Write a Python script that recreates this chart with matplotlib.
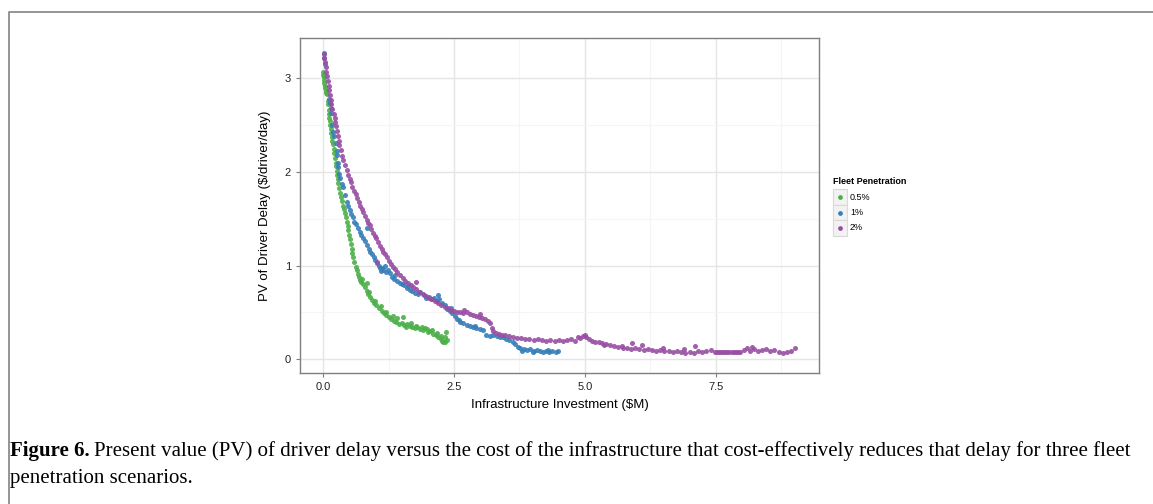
import matplotlib
matplotlib.use("Agg")
import matplotlib.pyplot as plt
from matplotlib.patches import Rectangle
from matplotlib.lines import Line2D

plt.rcParams['font.family'] = ['Liberation Sans', 'DejaVu Sans']

# values (x in $M, y in $/driver/day)
green_x = [0.00, 0.00, 0.01, 0.01, 0.02, 0.03, 0.05, 0.07, 0.09, 0.10, 0.11, 0.12, 0.12, 0.13,
           0.14, 0.15, 0.16, 0.17, 0.18, 0.19, 0.20, 0.21, 0.22, 0.24, 0.25, 0.26, 0.27, 0.28,
           0.29, 0.31, 0.33, 0.35, 0.36, 0.38, 0.40, 0.41, 0.43, 0.45, 0.47, 0.48, 0.50, 0.51,
           0.53, 0.55, 0.56, 0.58, 0.60, 0.62, 0.64, 0.66, 0.68, 0.70, 0.72, 0.76, 0.80, 0.83,
           0.86, 0.90, 0.94, 0.98, 1.02, 1.07, 1.12, 1.17, 1.21, 1.26, 1.30, 1.35, 1.40, 1.45,
           1.50, 1.55, 1.60, 1.66, 1.70, 1.75, 1.80, 1.85, 1.91, 1.95, 2.00, 2.05, 2.10, 2.15,
           2.20, 2.25, 2.28, 2.30, 2.32, 2.35, 2.36, 0.83, 1.53, 1.00, 1.10, 1.20, 1.33, 1.42,
           1.58, 1.68, 1.78, 1.88, 1.98, 2.08, 2.18, 2.26, 2.33, 0.74, 0.88, 0.04, 0.06]
green_y = [3.07, 3.04, 3.01, 2.98, 2.95, 2.92, 2.84, 2.83, 2.76, 2.73, 2.66, 2.62, 2.58, 2.54,
           2.50, 2.46, 2.42, 2.37, 2.33, 2.30, 2.24, 2.20, 2.15, 2.10, 2.06, 2.01, 1.97, 1.92,
           1.88, 1.83, 1.78, 1.73, 1.69, 1.64, 1.60, 1.56, 1.52, 1.47, 1.42, 1.38, 1.33, 1.28,
           1.23, 1.18, 1.13, 1.09, 1.04, 0.99, 0.95, 0.91, 0.88, 0.85, 0.83, 0.80, 0.77, 0.73,
           0.70, 0.67, 0.63, 0.60, 0.58, 0.55, 0.52, 0.49, 0.47, 0.45, 0.43, 0.41, 0.40, 0.38,
           0.39, 0.37, 0.38, 0.36, 0.35, 0.33, 0.34, 0.32, 0.31, 0.33, 0.29, 0.30, 0.27, 0.26,
           0.24, 0.22, 0.20, 0.18, 0.24, 0.29, 0.21, 0.81, 0.45, 0.62, 0.57, 0.51, 0.46, 0.44,
           0.34, 0.39, 0.36, 0.35, 0.32, 0.31, 0.28, 0.25, 0.19, 0.86, 0.72, 2.90, 2.86]

blue_x = [0.01, 0.02, 0.03, 0.12, 0.13, 0.15, 0.16, 0.18, 0.19, 0.21, 0.24, 0.26, 0.27, 0.29,
          0.29, 0.31, 0.32, 0.36, 0.39, 0.42, 0.45, 0.48, 0.51, 0.54, 0.58, 0.60, 0.63, 0.67,
          0.70, 0.73, 0.76, 0.80, 0.84, 0.87, 0.90, 0.93, 0.97, 1.00, 1.03, 1.06, 1.08, 1.12,
          1.15, 1.20, 1.24, 1.28, 1.32, 1.36, 1.41, 1.46, 1.50, 1.55, 1.60, 1.66, 1.70, 1.76,
          1.81, 1.86, 1.92, 1.97, 2.02, 2.07, 2.12, 2.17, 2.22, 2.27, 2.32, 2.37, 2.42, 2.47,
          2.52, 2.56, 2.62, 2.68, 2.74, 2.80, 2.86, 2.93, 3.00, 3.06, 3.12, 3.18, 3.25, 3.32,
          3.38, 3.44, 3.50, 3.56, 3.62, 3.67, 3.72, 3.77, 3.83, 3.90, 3.96, 4.02, 4.08, 4.14,
          4.20, 4.26, 4.32, 4.38, 4.44, 4.49, 0.83, 2.20, 1.10, 1.18, 1.38, 1.62, 2.45, 2.60,
          2.90, 3.80, 4.00, 4.30]
blue_y = [3.27, 3.22, 3.15, 2.78, 2.74, 2.68, 2.63, 2.50, 2.43, 2.38, 2.31, 2.22, 2.18, 2.10,
          2.05, 1.98, 1.94, 1.87, 1.84, 1.75, 1.68, 1.64, 1.59, 1.55, 1.52, 1.47, 1.44, 1.40,
          1.36, 1.33, 1.30, 1.26, 1.22, 1.18, 1.15, 1.12, 1.09, 1.06, 1.03, 1.00, 0.97, 0.98,
          0.95, 0.93, 0.95, 0.92, 0.88, 0.86, 0.84, 0.82, 0.80, 0.79, 0.76, 0.74, 0.73, 0.71,
          0.70, 0.72, 0.69, 0.66, 0.67, 0.64, 0.66, 0.62, 0.64, 0.60, 0.58, 0.54, 0.52, 0.49,
          0.46, 0.43, 0.40, 0.39, 0.37, 0.36, 0.34, 0.33, 0.32, 0.31, 0.26, 0.25, 0.26, 0.25,
          0.24, 0.24, 0.22, 0.21, 0.19, 0.16, 0.13, 0.12, 0.11, 0.10, 0.11, 0.09, 0.10, 0.09,
          0.08, 0.09, 0.08, 0.09, 0.08, 0.09, 1.40, 0.69, 0.94, 1.00, 0.90, 0.78, 0.55, 0.42,
          0.36, 0.09, 0.08, 0.10]

purple_x = [0.01, 0.02, 0.03, 0.05, 0.06, 0.08, 0.09, 0.11, 0.12, 0.13, 0.15, 0.16, 0.18, 0.20,
            0.22, 0.23, 0.25, 0.26, 0.28, 0.30, 0.31, 0.34, 0.37, 0.39, 0.42, 0.45, 0.48, 0.51,
            0.54, 0.56, 0.59, 0.62, 0.65, 0.68, 0.71, 0.74, 0.77, 0.80, 0.83, 0.86, 0.89, 0.92,
            0.95, 0.99, 1.02, 1.05, 1.08, 1.12, 1.15, 1.19, 1.22, 1.26, 1.30, 1.34, 1.38, 1.42,
            1.47, 1.52, 1.57, 1.62, 1.67, 1.72, 1.78, 1.84, 1.90, 1.96, 2.02, 2.08, 2.14, 2.20,
            2.26, 2.32, 2.38, 2.44, 2.50, 2.56, 2.62, 2.68, 2.74, 2.80, 2.86, 2.92, 2.98, 3.04,
            3.10, 3.15, 3.19, 3.22, 3.25, 3.30, 3.36, 3.42, 3.48, 3.55, 3.62, 3.70, 3.78, 3.86,
            3.94, 4.02, 4.10, 4.18, 4.26, 4.34, 4.42, 4.50, 4.58, 4.66, 4.74, 4.82, 4.90, 4.96,
            5.02, 5.08, 5.14, 5.20, 5.26, 5.32, 5.40, 5.48, 5.56, 5.64, 5.72, 5.80, 5.88, 5.96,
            6.04, 6.12, 6.20, 6.28, 6.36, 6.44, 6.52, 6.60, 6.68, 6.76, 6.84, 6.92, 7.00, 7.08,
            7.16, 7.24, 7.32, 7.40, 7.48, 7.52, 7.56, 7.60, 7.64, 7.68, 7.72, 7.76, 7.80, 7.84,
            7.88, 7.92, 7.96, 8.04, 8.10, 8.16, 8.22, 8.30, 8.38, 8.46, 8.54, 8.62, 8.70, 8.78,
            8.86, 8.94, 9.01, 1.78, 1.03, 5.90, 6.10, 7.10, 8.20, 5.00, 4.86, 3.00, 2.70, 5.36,
            5.70, 6.50, 6.90]
purple_y = [3.26, 3.22, 3.17, 3.12, 3.07, 3.02, 2.97, 2.92, 2.87, 2.82, 2.77, 2.73, 2.67, 2.62,
            2.58, 2.53, 2.49, 2.44, 2.38, 2.33, 2.29, 2.23, 2.17, 2.13, 2.07, 2.02, 1.97, 1.93,
            1.89, 1.84, 1.80, 1.76, 1.72, 1.68, 1.64, 1.60, 1.57, 1.53, 1.49, 1.46, 1.43, 1.39,
            1.35, 1.32, 1.29, 1.25, 1.21, 1.18, 1.15, 1.12, 1.09, 1.05, 1.02, 0.99, 0.96, 0.93,
            0.90, 0.87, 0.84, 0.82, 0.79, 0.77, 0.75, 0.72, 0.70, 0.68, 0.66, 0.64, 0.62, 0.60,
            0.58, 0.56, 0.55, 0.53, 0.52, 0.51, 0.51, 0.49, 0.50, 0.48, 0.47, 0.46, 0.45, 0.44,
            0.43, 0.41, 0.39, 0.33, 0.30, 0.28, 0.27, 0.26, 0.26, 0.25, 0.24, 0.23, 0.23, 0.22,
            0.22, 0.21, 0.22, 0.21, 0.20, 0.21, 0.20, 0.21, 0.20, 0.21, 0.22, 0.20, 0.23, 0.25,
            0.24, 0.22, 0.20, 0.19, 0.18, 0.17, 0.16, 0.15, 0.14, 0.13, 0.12, 0.12, 0.11, 0.12,
            0.11, 0.10, 0.11, 0.10, 0.09, 0.10, 0.09, 0.09, 0.08, 0.09, 0.08, 0.07, 0.08, 0.07,
            0.09, 0.08, 0.09, 0.10, 0.08, 0.08, 0.08, 0.08, 0.08, 0.08, 0.08, 0.08, 0.08, 0.08,
            0.08, 0.08, 0.08, 0.10, 0.12, 0.09, 0.11, 0.09, 0.10, 0.11, 0.09, 0.10, 0.08, 0.07,
            0.08, 0.09, 0.12, 0.83, 1.04, 0.17, 0.15, 0.14, 0.13, 0.26, 0.24, 0.48, 0.53, 0.15,
            0.14, 0.12, 0.11]

series_labels = ['0.5%', '1%', '2%']
series_colors = ['#4DAF4A', '#377EB8', '#984EA3']

fig = plt.figure(figsize=(11.53, 5.04), dpi=100)
ax = fig.add_axes([0.2602, 0.2599, 0.4501, 0.6647])

for xs, ys, col in zip([green_x, blue_x, purple_x], [green_y, blue_y, purple_y], series_colors):
    ax.scatter(xs, ys, s=13, color=col, linewidths=0, alpha=0.9, zorder=3)

ax.set_xlim(-0.44, 9.47)
ax.set_ylim(-0.146, 3.43)
ax.set_xticks([0, 2.5, 5, 7.5])
ax.set_xticklabels(['0.0', '2.5', '5.0', '7.5'])
ax.set_yticks([0, 1, 2, 3])
ax.set_xticks([1.25, 3.75, 6.25, 8.75], minor=True)
ax.set_yticks([0.5, 1.5, 2.5], minor=True)
ax.grid(True, which='major', color='#E5E5E5', linewidth=1.0, zorder=0)
ax.grid(True, which='minor', color='#F5F5F5', linewidth=0.8, zorder=0)
ax.set_axisbelow(True)
ax.tick_params(which='major', length=3, color='#7F7F7F', labelsize=8, labelcolor='#222222')
ax.tick_params(which='minor', length=0)
for sp in ax.spines.values():
    sp.set_color('#7F7F7F')
    sp.set_linewidth(1.0)

ax.set_xlabel('Infrastructure Investment ($M)', fontsize=9.5, labelpad=5)
ax.set_ylabel('PV of Driver Delay ($/driver/day)', fontsize=9.5, labelpad=10)

# legend drawn by hand, ggplot style boxed keys
fig.text(833 / 1153, 1 - 181 / 504, 'Fleet Penetration', fontsize=6.5, fontweight='bold',
         va='center', ha='left')
for i, (lab, col) in enumerate(zip(series_labels, series_colors)):
    yc = 197 + i * 15.5
    fig.add_artist(Rectangle((833 / 1153, 1 - (yc + 7.7) / 504), 14 / 1153, 15.4 / 504,
                             transform=fig.transFigure, facecolor='#F2F2F2',
                             edgecolor='#D9D9D9', linewidth=0.8))
    fig.add_artist(Line2D([840 / 1153], [1 - yc / 504], marker='o', markersize=2.4,
                          color=col, linestyle='none', transform=fig.transFigure))
    fig.text(850 / 1153, 1 - yc / 504, lab, fontsize=6.5, va='center', ha='left')

# page frame
fig.add_artist(Line2D([8.5 / 1153, 8.5 / 1153, 1.0], [0.0, 1 - 12 / 504, 1 - 12 / 504],
                      color='#8C8C8C', linewidth=1.3, transform=fig.transFigure))

# caption: bold lead-in then the rest of the sentence
cap_size = 15
lead = fig.text(10 / 1153, 1 - 451 / 504, 'Figure 6.', fontsize=cap_size, fontweight='bold',
                va='center', ha='left', family='Liberation Serif')
fig.canvas.draw()
bb = lead.get_window_extent(renderer=fig.canvas.get_renderer())
x_after = (bb.x1 + 4) / fig.bbox.width
fig.text(x_after, 1 - 451 / 504,
         'Present value (PV) of driver delay versus the cost of the infrastructure '
         'that cost-effectively reduces that delay for three fleet',
         fontsize=cap_size, va='center', ha='left', family='Liberation Serif')
fig.text(10 / 1153, 1 - 478 / 504, 'penetration scenarios.', fontsize=cap_size, va='center',
         ha='left', family='Liberation Serif')

fig.savefig('out.png', dpi=100)
